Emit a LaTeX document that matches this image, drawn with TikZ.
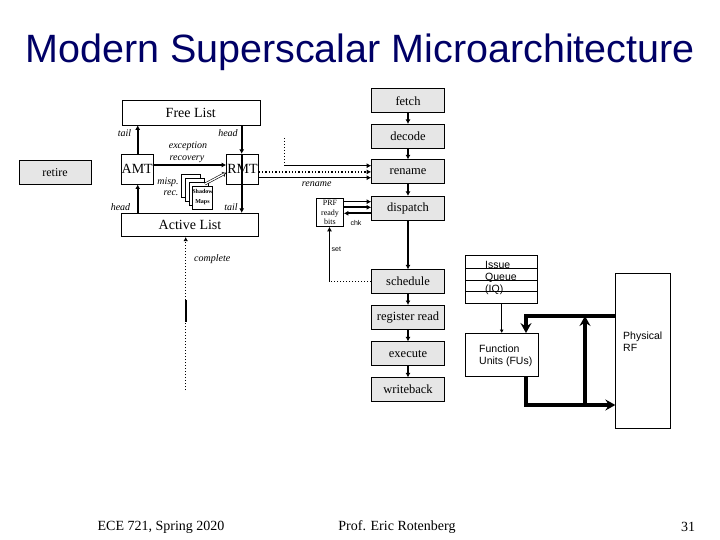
\documentclass[tikz,border=0pt]{standalone}
\usepackage{fontspec}
\setmainfont{Liberation Serif}
\newfontfamily\sansf{Liberation Sans}
\usetikzlibrary{arrows.meta}
\definecolor{boxgray}{RGB}{230,230,230}
\definecolor{titleblue}{RGB}{0,0,102}
\begin{document}
\begin{tikzpicture}[x=1pt,y=-1pt,
  stage/.style={draw=black, line width=0.6pt, fill=boxgray, minimum width=73pt, minimum height=24pt, inner sep=0pt, font=\fontsize{12.5}{14}\selectfont},
  wbox/.style={draw=black, line width=0.6pt, fill=white, inner sep=0pt},
  flow/.style={line width=1.6pt, -{Latex[length=4.5pt,width=5pt]}},
  thin flow/.style={line width=1pt, -{Latex[length=3.5pt,width=4pt]}},
  dotline/.style={line width=1pt, dotted},
  lab/.style={font=\fontsize{10}{12}\selectfont\itshape, inner sep=0pt},
  tiny/.style={font=\sansf\fontsize{7}{8}\selectfont, inner sep=0pt},
  fat/.style={line width=3.2pt, -{Stealth[length=10pt,width=11pt,inset=3.5pt]}},
  sm/.style={draw=black, line width=0.5pt, fill=white, minimum width=18.4pt, minimum height=23pt, inner sep=0pt},
  ]
\useasboundingbox (0,0) rectangle (720,540);

% title
\node[font=\sansf\fontsize{39.5}{44}\selectfont, text=titleblue, anchor=base] (title) at (360,63) {Modern Superscalar Microarchitecture};

% pipeline
\node[stage] (fetch) at (408,100.8) {fetch};
\node[stage] (decode) at (408,136.3) {decode};
\node[stage] (rename) at (408,171.7) {rename};
\node[stage] (dispatch) at (408,208.2) {dispatch};
\node[stage] (schedule) at (408,281.7) {schedule};
\node[stage] (regread) at (408,317.3) {register read};
\node[stage] (execute) at (408,353.7) {execute};
\node[stage] (writeback) at (408,389.7) {writeback};

\draw[flow] (fetch) -- (decode);
\draw[flow] (decode) -- (rename);
\draw[flow] (rename) -- (dispatch);
\draw[flow] (dispatch) -- (schedule);
\draw[flow] (schedule) -- (regread);
\draw[flow] (regread) -- (execute);
\draw[flow] (execute) -- (writeback);

% rename machinery
\node[wbox, minimum width=138pt, minimum height=25pt, font=\fontsize{14}{16}\selectfont] (FL) at (190.8,112.5) {Free List};
\node[wbox, minimum width=137pt, minimum height=23.5pt, font=\fontsize{14}{16}\selectfont] (AL) at (190,225) {Active List};
\node[wbox, minimum width=32pt, minimum height=30pt, font=\fontsize{14}{16}\selectfont] (AMT) at (137.2,169.2) {AMT};
\node[wbox, minimum width=32pt, minimum height=30pt, font=\fontsize{14}{16}\selectfont] (RMT) at (242.5,169.2) {RMT};
\node[draw=black, line width=0.6pt, fill=boxgray, minimum width=72pt, minimum height=24pt, inner sep=0pt, font=\fontsize{12}{14}\selectfont] (retire) at (55,172.8) {retire};

\coordinate (xl) at (137.7,0);
\coordinate (xr) at (241.7,0);
\coordinate (ye) at (0,165);

\draw[flow] (AMT.north -| xl) -- (FL.south -| xl);
\draw[flow] (AL.north -| xl) -- (AMT.south -| xl);
\draw[flow] (FL.south -| xr) -- (RMT.north -| xr);
\draw[flow] (RMT.north -| xr) -- (AL.north -| xr);
\draw[flow] (AMT.east |- ye) -- (RMT.west |- ye);

\node[lab] (ltail1) at (124.5,133.3) {tail};
\node[lab] (lhead1) at (228,132.7) {head};
\node[lab] (lhead2) at (120.5,206.7) {head};
\node[lab] (ltail2) at (231,206.7) {tail};
\node[lab] (lexc) at (188,146.7) {exception};
\node[lab] (lrec) at (187,159) {recovery};
\node[lab] (lmisp) at (168,182) {misp.};
\node[lab] (lmrec) at (171,193) {rec.};

% shadow maps
\node[sm] (sm1) at (190.8,185.8) {};
\node[sm] (sm2) at (194.7,189.7) {};
\node[sm] (sm3) at (198.6,193.6) {};
\node[sm, align=center, font=\bfseries\fontsize{6}{10}\selectfont] (sm4) at (202.5,197.5) {Shadow\\Maps};
\coordinate (dstart) at (205,184);
\draw[double, double distance=1.3pt, line width=0.6pt, -{Implies}] (dstart) -- (RMT.west |- 0,172.7);

% rename inputs
\coordinate (y1) at (0,165.7);
\coordinate (y2) at (0,171.9);
\coordinate (y3) at (0,177.7);
\coordinate (dv) at (284.5,138);
\draw[dotline] (dv) -- (dv |- y1);
\draw[flow] (dv |- y1) -- (rename.west |- y1);
\draw[line width=1.3pt, dotted, -{Latex[length=4.5pt,width=5pt]}] (RMT.east |- y2) -- (rename.west |- y2);
\draw[flow] (RMT.east |- y3) -- (rename.west |- y3);
\node[lab] (lren) at (316.7,184.3) {rename};

% PRF ready bits
\node[wbox, minimum width=27pt, minimum height=28pt, align=center, font=\fontsize{8}{9.8}\selectfont] (PRF) at (330,212.5) {PRF\\ready\\bits};
\coordinate (p1) at (0,201.7);
\coordinate (p2) at (0,207.3);
\coordinate (p3) at (0,213.3);
\draw[flow] (PRF.east |- p1) -- (dispatch.west |- p1);
\draw[flow] (PRF.east |- p2) -- (dispatch.west |- p2);
\draw[flow] (dispatch.west |- p3) -- (PRF.east |- p3);
\node[tiny] (lchk) at (356,222.7) {chk};

\coordinate (sx) at (329.5,0);
\draw[dotline] (schedule.west) -- (schedule.west -| sx);
\draw[flow] (schedule.west -| sx) -- (PRF.south -| sx);
\node[tiny, anchor=west] (lset) at (331.5,249.7) {set};

% complete
\coordinate (cb) at (185.7,390);
\coordinate (cs1) at (185.7,321.7);
\coordinate (cs2) at (185.7,300);
\draw[dotline] (cb) -- (cs1);
\draw[line width=1.6pt] (cs1) -- (cs2);
\draw[dotline, -{Latex[length=4pt,width=4.5pt]}] (cs2) -- (AL.south -| cb);
\node[lab, anchor=west] (lcomp) at (194,259) {complete};

% issue queue
\node[wbox, minimum width=72pt, minimum height=47.6pt] (IQ) at (501.7,279.5) {};
\node[font=\sansf\fontsize{10.5}{12}\selectfont, anchor=base west, inner sep=0pt] (iq1) at (485,268.5) {Issue};
\node[font=\sansf\fontsize{10.5}{12}\selectfont, anchor=base west, inner sep=0pt] (iq2) at (485,280.3) {Queue};
\node[font=\sansf\fontsize{10.5}{12}\selectfont, anchor=base west, inner sep=0pt] (iq3) at (485,292) {(IQ)};
\coordinate (q1) at (0,268.3);
\coordinate (q2) at (0,280);
\coordinate (q3) at (0,291.7);
\draw[line width=0.6pt] (IQ.west |- q1) -- (IQ.east |- q1);
\draw[line width=0.6pt] (IQ.west |- q2) -- (IQ.east |- q2);
\draw[line width=0.6pt] (IQ.west |- q3) -- (IQ.east |- q3);

% function units and RF
\node[wbox, minimum width=72.6pt, minimum height=42.7pt] (FU) at (502,354.7) {};
\node[font=\sansf\fontsize{10.5}{12.4}\selectfont, anchor=west, align=left, inner sep=0pt] (FUt) at (479,355.5) {Function\\Units (FUs)};
\node[wbox, minimum width=54.3pt, minimum height=155pt] (RF) at (642.8,350.8) {};
\node[font=\sansf\fontsize{10.5}{11.6}\selectfont, anchor=north west, align=left, inner sep=0pt] (RFt) at (623,332) {Physical\\RF};

\draw[thin flow] (IQ.south) -- (FU.north -| IQ.south);

\coordinate (fa) at (526,316);
\coordinate (fb) at (585,316);
\coordinate (fc) at (526,405);
\coordinate (fd) at (585,405);
\draw[fat] (RF.west |- fa) -- (fa) -- (FU.north -| fa);
\draw[fat] (fd) -- (fb);
\draw[fat] (FU.south -| fc) -- (fc) -- (RF.west |- fc);

% footer
\node[font=\fontsize{14}{16}\selectfont] (f1) at (161,527) {ECE 721, Spring 2020};
\node[font=\fontsize{14}{16}\selectfont] (f2) at (397,527) {Prof. Eric Rotenberg};
\node[font=\fontsize{14}{16}\selectfont] (f3) at (688,527) {31};
\end{tikzpicture}
\end{document}
